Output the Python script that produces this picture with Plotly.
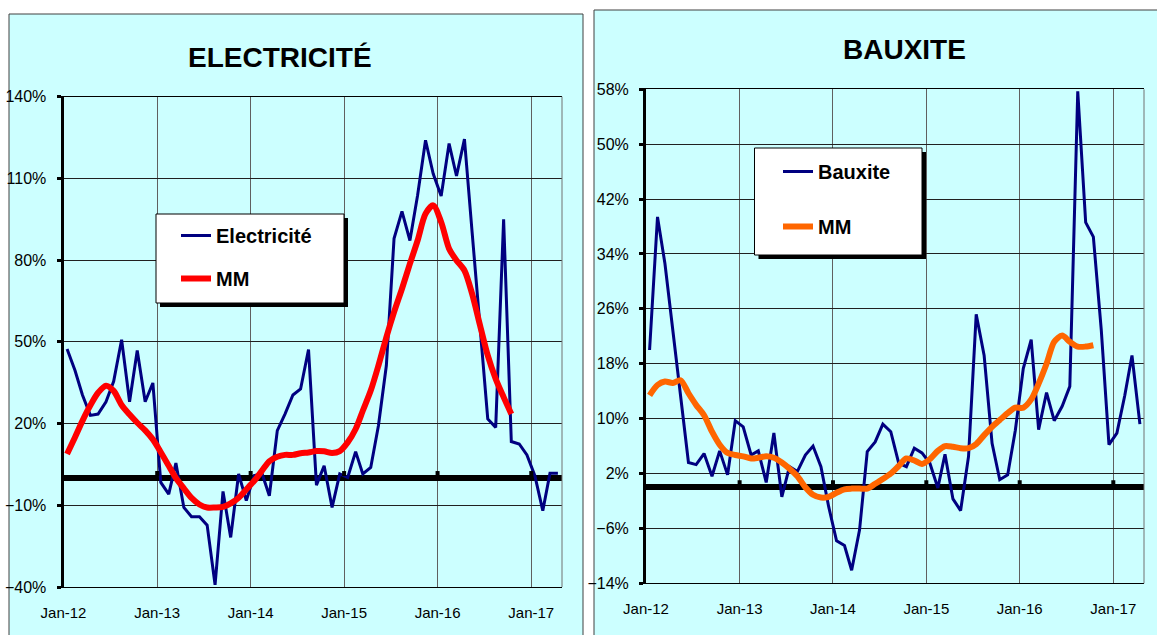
import pandas as pd
import plotly.graph_objects as go

# ---------------- data ----------------
tick_labels = ["Jan-12", "Jan-13", "Jan-14", "Jan-15", "Jan-16", "Jan-17"]
tick_dates = ["2012-01-01", "2013-01-01", "2014-01-01", "2015-01-01", "2016-01-01", "2017-01-01"]

electricite = [47.4, 39.5, 30.5, 23.0, 23.5, 28.0, 35.5, 50.8, 28.0, 46.8,
               28.0, 34.9, -1.6, -5.9, 5.5, -10.8, -14.2, -14.2, -17.3, -39.2,
               -4.9, -21.8, 1.5, -8.3, 0.9, 1.5, -6.5, 17.4, 23.5, 30.5,
               32.7, 47.2, -2.6, 4.5, -10.8, 1.5, 0.2, 9.7, 1.5, 3.9,
               19.2, 41.3, 87.9, 97.9, 87.2, 103.8, 124.0, 111.7, 103.5, 122.8,
               110.9, 124.4, 90.2, 56.0, 21.7, 18.6, 95.0, 13.4, 12.5, 8.5,
               0.9, -12.0, 1.8, 1.8]
electricite_mm = [8.8, 15.0, 21.0, 26.7, 31.3, 33.9, 32.0, 26.8, 23.3, 20.3,
                  17.5, 14.2, 9.5, 4.5, 0.0, -3.8, -7.3, -9.7, -10.8, -10.8,
                  -10.6, -9.3, -7.2, -4.2, -1.0, 2.8, 6.2, 7.8, 8.5, 8.5,
                  9.1, 9.4, 9.9, 9.8, 9.2, 9.9, 13.1, 18.0, 24.7, 32.1,
                  41.3, 51.7, 60.9, 69.5, 78.7, 87.2, 97.0, 100.1, 94.0, 84.2,
                  79.9, 76.2, 67.6, 56.0, 45.0, 36.4, 29.7, 23.5]

bauxite = [20.0, 39.4, 32.6, 22.9, 12.8, 3.6, 3.3, 4.9, 1.6, 5.3,
           1.8, 9.7, 8.8, 4.7, 5.3, 0.7, 7.9, -1.4, 3.0, 2.3,
           4.7, 6.0, 3.0, -2.8, -7.8, -8.5, -12.1, -6.2, 5.2, 6.6,
           9.2, 8.1, 3.5, 3.0, 5.7, 5.0, 3.5, -0.1, 4.8, -1.7,
           -3.4, 4.5, 25.2, 19.2, 6.4, 1.1, 1.8, 8.3, 17.3, 21.5,
           8.4, 13.8, 9.7, 11.8, 14.7, 57.7, 38.6, 36.5, 22.9, 6.2,
           7.9, 13.4, 19.2, 9.2]
bauxite_mm = [13.4, 14.9, 15.4, 15.2, 15.6, 13.7, 12.0, 10.5, 8.1, 6.2,
              5.0, 4.7, 4.5, 4.2, 4.3, 4.5, 4.3, 3.6, 2.7, 1.6,
              0.0, -1.1, -1.5, -1.4, -0.8, -0.3, -0.2, -0.2, -0.2, 0.5,
              1.2, 2.0, 3.1, 4.2, 3.9, 3.4, 4.1, 5.3, 6.0, 5.9,
              5.7, 5.7, 6.3, 7.6, 8.8, 9.8, 10.8, 11.6, 11.6, 12.8,
              15.1, 18.0, 21.2, 22.1, 21.2, 20.5, 20.5, 20.7]

months = pd.date_range("2012-01-01", periods=len(electricite), freq="MS") + pd.Timedelta(days=14)
dates = [d.strftime("%Y-%m-%d") for d in months]

# ---------------- layout helpers ----------------
W, H = 1157, 635
FONT = "Liberation Sans, Arial, sans-serif"


def px(x):
    return x / W


def py(y):
    return 1 - y / H


NAVY = "#000080"
RED = "#FF0000"
ORANGE = "#FF6600"
CYAN = "#CCFFFF"

fig = go.Figure()

fig.add_trace(go.Scatter(x=dates, y=electricite, name="Electricité", mode="lines",
                         line=dict(color=NAVY, width=3), xaxis="x", yaxis="y",
                         legend="legend", legendgroup="a"))
fig.add_trace(go.Scatter(x=dates[:len(electricite_mm)], y=electricite_mm, name="MM", mode="lines",
                         line=dict(color=RED, width=6, shape="spline", smoothing=0.8),
                         xaxis="x", yaxis="y", legend="legend", legendgroup="b"))
fig.add_trace(go.Scatter(x=dates, y=bauxite, name="Bauxite", mode="lines",
                         line=dict(color=NAVY, width=3), xaxis="x2", yaxis="y2",
                         legend="legend2", legendgroup="c"))
fig.add_trace(go.Scatter(x=dates[:len(bauxite_mm)], y=bauxite_mm, name="MM", mode="lines",
                         line=dict(color=ORANGE, width=6, shape="spline", smoothing=0.8),
                         xaxis="x2", yaxis="y2", legend="legend2", legendgroup="d"))

xcommon = dict(type="date", range=["2012-01-01", "2017-05-01"], tickvals=tick_dates,
               ticktext=tick_labels, showgrid=True, gridcolor="#606060", gridwidth=1,
               showline=True, mirror=True, linecolor="black", linewidth=1,
               ticks="", tickfont=dict(family=FONT, size=15, color="black"),
               ticklabelstandoff=12, zeroline=False, fixedrange=True, automargin=False)
ycommon = dict(showgrid=True, gridcolor="#202020", gridwidth=1, zeroline=True,
               zerolinecolor="black", zerolinewidth=6, showline=True, linecolor="black",
               linewidth=3, ticks="outside", ticklen=4, tickwidth=3, tickcolor="black",
               ticksuffix="%", tickfont=dict(family=FONT, size=16, color="black"),
               ticklabelstandoff=7, fixedrange=True, automargin=False)

legfont = dict(family=FONT, size=20, color="black", weight="bold")
fig.update_layout(
    width=W, height=H, margin=dict(l=0, r=0, t=0, b=0, pad=0, autoexpand=False),
    paper_bgcolor="white", plot_bgcolor="white",
    xaxis=dict(domain=[px(63.5), px(562)], anchor="y", **xcommon),
    yaxis=dict(domain=[py(587), py(96.7)], anchor="x", range=[-40, 140], tick0=-40, dtick=30, **ycommon),
    xaxis2=dict(domain=[px(646), px(1144)], anchor="y2", **xcommon),
    yaxis2=dict(domain=[py(583.3), py(89.3)], anchor="x2", range=[-14, 58], tick0=-14, dtick=8, **ycommon),
    legend=dict(x=px(176), y=py(216), xanchor="left", yanchor="top", bgcolor="rgba(0,0,0,0)",
                borderwidth=0, font=legfont, tracegroupgap=14, itemwidth=30),
    legend2=dict(x=px(778), y=py(152), xanchor="left", yanchor="top", bgcolor="rgba(0,0,0,0)",
                 borderwidth=0, font=legfont, tracegroupgap=26, itemwidth=30),
    showlegend=True,
)

shapes = []
# panel backgrounds
shapes.append(dict(type="rect", xref="paper", yref="paper", x0=px(9), x1=px(583), y0=py(645), y1=py(14),
                   fillcolor=CYAN, line=dict(color="#404040", width=1), layer="below"))
shapes.append(dict(type="rect", xref="paper", yref="paper", x0=px(594), x1=px(1170), y0=py(645), y1=py(10),
                   fillcolor=CYAN, line=dict(color="#404040", width=1), layer="below"))
# right edges of plot areas and year ticks on the zero line
for xa, ya in (("x", "y"), ("x2", "y2")):
    shapes.append(dict(type="line", xref=xa + " domain", yref=ya + " domain", x0=1, x1=1, y0=0, y1=1,
                       line=dict(color="#707070", width=1), layer="above"))
    for d in tick_dates[1:]:
        shapes.append(dict(type="rect", xref=xa, yref=ya, xsizemode="pixel", ysizemode="pixel",
                           xanchor=d, yanchor=0, x0=-2, x1=2, y0=2, y1=7,
                           fillcolor="black", line=dict(width=0), layer="above"))
# legend boxes with shadow
for (l, t, r, b) in ((156, 214, 344, 303), (754.5, 148, 922, 255)):
    shapes.append(dict(type="rect", xref="paper", yref="paper", x0=px(l + 4), x1=px(r + 4),
                       y0=py(b + 4), y1=py(t + 4), fillcolor="black", line=dict(width=0), layer="above"))
    shapes.append(dict(type="rect", xref="paper", yref="paper", x0=px(l), x1=px(r),
                       y0=py(b), y1=py(t), fillcolor="white", line=dict(color="black", width=1),
                       layer="above"))
fig.update_layout(shapes=shapes)

fig.add_annotation(text="<b>ELECTRICITÉ</b>", x=px(280), y=py(58), xref="paper", yref="paper",
                   xanchor="center", yanchor="middle", showarrow=False,
                   font=dict(family=FONT, size=28, color="black"))
fig.add_annotation(text="<b>BAUXITE</b>", x=px(904), y=py(50), xref="paper", yref="paper",
                   xanchor="center", yanchor="middle", showarrow=False,
                   font=dict(family=FONT, size=28, color="black"))

fig.write_html("out.html",
               config={"displayModeBar": False},
               post_script="document.body.style.margin='0px';"
                           "document.documentElement.style.overflow='hidden';"
                           "document.body.style.overflow='hidden';")
